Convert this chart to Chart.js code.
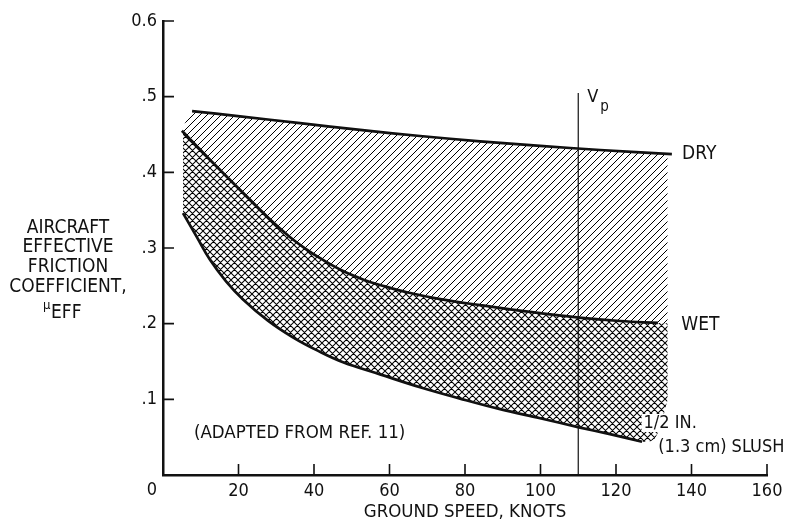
<!DOCTYPE html>
<html>
<head>
<meta charset="utf-8">
<title>Aircraft effective friction coefficient vs ground speed</title>
<script src="https://cdn.jsdelivr.net/npm/chart.js@4"></script>
<style>
  html, body { margin: 0; padding: 0; background: #fff; }
  canvas { display: block; }
</style>
</head>
<body>
<canvas id="chart-friction" width="789" height="525"></canvas>
<script>
// Effective friction coefficient vs ground speed (dry / wet / slush runway)

const dryKnots = [7.7, 20.4, 36.3, 52.2, 68.1, 84.0, 99.9, 115.8, 134.8];
const dryMu    = [0.481, 0.474, 0.465, 0.456, 0.448, 0.441, 0.435, 0.4295, 0.424];

const wetKnots = [5.0, 12.5, 20.4, 28.3, 33.6, 37.6, 41.6, 47.7, 53.5, 57.5, 64.6, 73.4, 84.0, 97.2, 110.2, 121.1, 131.1];
const wetMu    = [0.455, 0.4165, 0.377, 0.338, 0.3145, 0.2995, 0.2865, 0.2695, 0.2575, 0.2512, 0.2415, 0.2325, 0.2245, 0.2155, 0.208, 0.2035, 0.201];

const slushKnots = [5.3, 8.9, 12.5, 16.7, 21.2, 27.8, 34.4, 41.1, 47.7, 57.5, 68.1, 78.7, 89.3, 99.9, 110.2, 118.4, 126.9];
const slushMu    = [0.346, 0.315, 0.284, 0.256, 0.232, 0.204, 0.182, 0.164, 0.149, 0.133, 0.116, 0.101, 0.087, 0.075, 0.063, 0.054, 0.044];

// shaded bands stop at a common right edge
const shadeEdgeKnots = 133.7;
const dryAtEdge = 0.4245;
const wetAtEdge = 0.2005;
const slushShadeKnots = [130.5, 133.7];
const slushShadeMu    = [0.050, 0.099];

// rotation speed marker
const vpKnots = 110;
const vpTopMu = 0.505;

const xTickValues = [0, 20, 40, 60, 80, 100, 120, 140, 160];
const xTickLabels = ['', '20', '40', '60', '80', '100', '120', '140', '160'];
const yTickValues = [0, 0.1, 0.2, 0.3, 0.4, 0.5, 0.6];
const yTickLabels = ['', '.1', '.2', '.3', '.4', '.5', '0.6'];

const FONT = "'DejaVu Sans Condensed', 'Liberation Sans Narrow', 'DejaVu Sans', sans-serif";
const INK = '#111';

const pts = (xs, ys) => xs.map((x, i) => ({ x, y: ys[i] }));
const labelFor = (vals, labels) => v => {
    const i = vals.findIndex(t => Math.abs(t - v) < 1e-6);
    return i < 0 ? '' : labels[i];
};

const canvas = document.getElementById('chart-friction');
const ctx = canvas.getContext('2d');

// Hatch patterns
function makeHatch(period, dirs, lw, color) {
    const c = document.createElement('canvas');
    c.width = c.height = period;
    const g = c.getContext('2d');
    g.strokeStyle = color;
    g.lineWidth = lw;
    g.beginPath();
    if (dirs.includes('/')) {
        g.moveTo(0, period); g.lineTo(period, 0);
        g.moveTo(-1, 1); g.lineTo(1, -1);
        g.moveTo(period - 1, period + 1); g.lineTo(period + 1, period - 1);
    }
    if (dirs.includes('\\')) {
        g.moveTo(0, 0); g.lineTo(period, period);
        g.moveTo(period - 1, -1); g.lineTo(period + 1, 1);
        g.moveTo(-1, period - 1); g.lineTo(1, period + 1);
    }
    g.stroke();
    return ctx.createPattern(c, 'repeat');
}
const diagHatch = makeHatch(7, '/', 1.0, '#000');
const crossHatch = makeHatch(7, '/\\', 1.05, '#000');

const dryShade = [{ x: wetKnots[0], y: wetMu[0] }]
    .concat(pts(dryKnots, dryMu).filter(p => p.x < shadeEdgeKnots))
    .concat([{ x: shadeEdgeKnots, y: dryAtEdge }]);
const wetShade = pts(wetKnots, wetMu).concat([{ x: shadeEdgeKnots, y: wetAtEdge }]);
const slushShade = pts(slushKnots, slushMu).concat(pts(slushShadeKnots, slushShadeMu));

const curve = (label, data) => ({
    label, data,
    borderColor: INK, borderWidth: 2.7,
    pointRadius: 0, fill: false,
    tension: 0.4
});
const bound = (label, data, fill, bg, extra = {}) => Object.assign({
    label, data,
    borderColor: 'transparent', borderWidth: 0,
    pointRadius: 0, fill, backgroundColor: bg,
    tension: 0.4
}, extra);

// Text + inner tick marks
const annotate = {
    id: 'annotate',
    afterDraw(chart) {
        const { ctx: c, scales: { x, y } } = chart;
        const px = v => x.getPixelForValue(v);
        const py = v => y.getPixelForValue(v);
        c.save();
        c.strokeStyle = INK;
        c.lineWidth = 1.6;
        c.beginPath();
        xTickValues.slice(1).forEach(v => { c.moveTo(px(v), y.bottom); c.lineTo(px(v), y.bottom - 11); });
        yTickValues.slice(1).forEach(v => { c.moveTo(x.left, py(v)); c.lineTo(x.left + 11, py(v)); });
        c.stroke();

        c.fillStyle = INK;
        c.textBaseline = 'middle';
        const text = (s, tx, ty, size, align = 'left', clear = false) => {
            c.font = `${size}px ${FONT}`;
            c.textAlign = align;
            if (clear) {
                const w = c.measureText(s).width;
                const l = align === 'center' ? tx - w / 2 : (align === 'right' ? tx - w : tx);
                c.fillStyle = '#fff';
                c.fillRect(l - 2, ty - size * 0.5, w + 4, size);
                c.fillStyle = INK;
            }
            c.fillText(s, tx, ty);
        };

        text('0', x.left - 11, y.bottom + 15, 18, 'center');

        text('DRY', px(137.5), py(dryMu[dryMu.length - 1]), 19);
        text('WET', px(137.3), py(wetMu[wetMu.length - 1]) + 2, 19);
        text('V', px(vpKnots) + 9, py(vpTopMu) + 4, 18);
        text('p', px(vpKnots) + 22, py(vpTopMu) + 14, 15);
        text('1/2 IN.', px(127.3), y.bottom - 52, 18, 'left', true);
        text('(1.3 cm) SLUSH', px(131.2), y.bottom - 28, 18);
        text('(ADAPTED FROM REF. 11)', px(8.2), y.bottom - 42, 18.5);

        // y-axis title
        const yTitle = ['AIRCRAFT', 'EFFECTIVE', 'FRICTION', 'COEFFICIENT,'];
        const lineY = [228, 247, 267, 287];
        yTitle.forEach((s, i) => text(s, 68, lineY[i], 19, 'center'));
        text('\u03bc', 43, 306, 13);
        text('EFF', 51, 313, 19);
        c.restore();
    }
};

new Chart(ctx, {
    type: 'line',
    data: {
        datasets: [
            curve('DRY', pts(dryKnots, dryMu)),
            curve('WET', pts(wetKnots, wetMu)),
            curve('1/2 IN. (1.3 cm) SLUSH', pts(slushKnots, slushMu)),
            {
                label: 'Vp',
                data: [{ x: vpKnots, y: 0 }, { x: vpKnots, y: vpTopMu }],
                borderColor: INK, borderWidth: 1.2, pointRadius: 0, fill: false
            },
            bound('dry band', dryShade, { target: 5 }, diagHatch, { cubicInterpolationMode: 'monotone' }),
            bound('wet band', wetShade, { target: 6 }, crossHatch),
            bound('slush band', slushShade, false, 'transparent')
        ]
    },
    options: {
        responsive: false,
        animation: false,
        layout: { padding: { top: 21, right: 22, left: 0, bottom: 0 } },
        plugins: {
            legend: { display: false },
            tooltip: { enabled: false }
        },
        scales: {
            x: {
                type: 'linear', min: 0, max: 160,
                afterFit: s => { s.height = 50; },
                grid: { display: false, drawTicks: false },
                border: { display: true, color: INK, width: 2.5 },
                ticks: {
                    stepSize: 20, autoSkip: false, maxRotation: 0,
                    padding: 6, color: INK,
                    font: { family: FONT, size: 18 },
                    callback: labelFor(xTickValues, xTickLabels)
                },
                title: {
                    display: true, text: 'GROUND SPEED, KNOTS', color: INK,
                    font: { family: FONT, size: 18.5 },
                    padding: { top: 0, bottom: 2 }
                }
            },
            y: {
                type: 'linear', min: 0, max: 0.6,
                afterFit: s => { s.width = 163; },
                grid: { display: false, drawTicks: false },
                border: { display: true, color: INK, width: 2.5 },
                ticks: {
                    stepSize: 0.1, autoSkip: false,
                    padding: 6, color: INK,
                    font: { family: FONT, size: 18 },
                    callback: labelFor(yTickValues, yTickLabels)
                }
            }
        }
    },
    plugins: [annotate]
});
</script>
</body>
</html>
